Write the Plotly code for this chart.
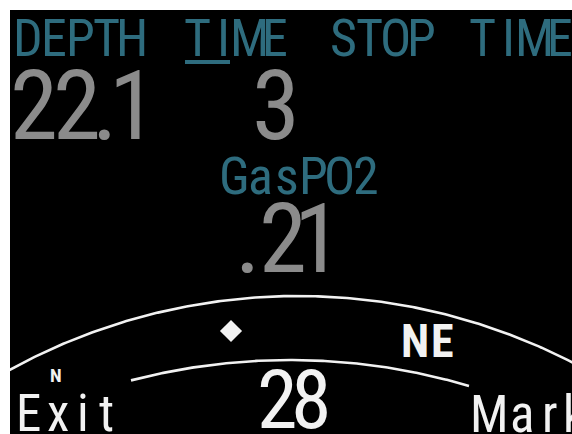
import numpy as np
import plotly.graph_objects as go

# ---- screen content (data) ----
header_labels = ["DEPTH", "TIME", "STOP", "TIME"]
depth_value = "22.1"
time_value = "3"
gas_label = "GasPO2"
gas_value = ".21"
heading_value = "28"
heading_dir = "NE"
north_label = "N"
soft_keys = ["Exit", "Mark"]

TEAL = "#2e6c7e"
GRAY = "#8b8b8b"
WHITE = "#f2f2f2"
FONT = "Roboto Condensed, DejaVu Sans Condensed, sans-serif"

W, H = 572, 434
fig = go.Figure()
annotations = []


def place(text, centers, yc, size, color, bold=False, last_left=False):
    n = len(text)
    for i, (ch, xc) in enumerate(zip(text, centers)):
        if ch == " ":
            continue
        anchor = "left" if (last_left and i == n - 1) else "center"
        annotations.append(dict(
            x=xc, y=yc, xref="x", yref="y", text=("<b>%s</b>" % ch) if bold else ch,
            showarrow=False, xanchor=anchor, yanchor="middle",
            font=dict(family=FONT, size=size, color=color)))


def even(x0, adv, n):
    return [x0 + adv * i + adv / 2 for i in range(n)]


# header row
word_starts = [15, 184, 330, 469]
for w, s in zip(header_labels, word_starts):
    place(w, even(s, 26, len(w)), 38, 52, TEAL)

# big values
place(depth_value, [34, 77, 105, 133], 106, 97, GRAY)
place(time_value, [276], 106, 97, GRAY)
place(gas_label, even(221, 26.3, len(gas_label)), 176, 52, TEAL)
place(gas_value, [248, 283, 318], 239, 97, GRAY)

# compass area
place(heading_dir, [415, 442], 341, 46, WHITE, bold=True)
place(north_label, [56], 375, 19, WHITE, bold=True)
place(heading_value, [277, 311], 400, 82, WHITE)
place(soft_keys[0], [28, 58, 83, 106], 413, 51, WHITE)
place(soft_keys[1], [489, 522, 550, 561], 414, 51, WHITE, last_left=True)

# compass arcs (circle geometry)
arcs = [dict(cx=298, cy=896, r=600, x0=6, x1=576),
        dict(cx=290, cy=990, r=630, x0=131, x1=469)]
for a in arcs:
    xs = np.linspace(a["x0"], a["x1"], 200)
    ys = a["cy"] - np.sqrt(a["r"] ** 2 - (xs - a["cx"]) ** 2)
    fig.add_trace(go.Scatter(x=xs, y=ys, mode="lines", line=dict(color=WHITE, width=2.6),
                             hoverinfo="skip", showlegend=False))

# heading marker
fig.add_trace(go.Scatter(x=[231], y=[331], mode="markers",
                         marker=dict(symbol="diamond", size=17, color=WHITE),
                         hoverinfo="skip", showlegend=False))

shapes = [dict(type="rect", xref="x", yref="y", x0=185, x1=230, y0=60, y1=64,
               fillcolor=TEAL, line=dict(width=0))]

fig.update_layout(
    width=W, height=H, margin=dict(l=10, r=0, t=10, b=0),
    paper_bgcolor="white", plot_bgcolor="black",
    xaxis=dict(range=[10, W], visible=False, fixedrange=True),
    yaxis=dict(range=[H, 10], visible=False, fixedrange=True),
    annotations=annotations, shapes=shapes, showlegend=False,
)
fig.write_html("out.html", config={"displayModeBar": False},
               post_script="document.body.style.margin='0';document.body.style.overflow='hidden';")
